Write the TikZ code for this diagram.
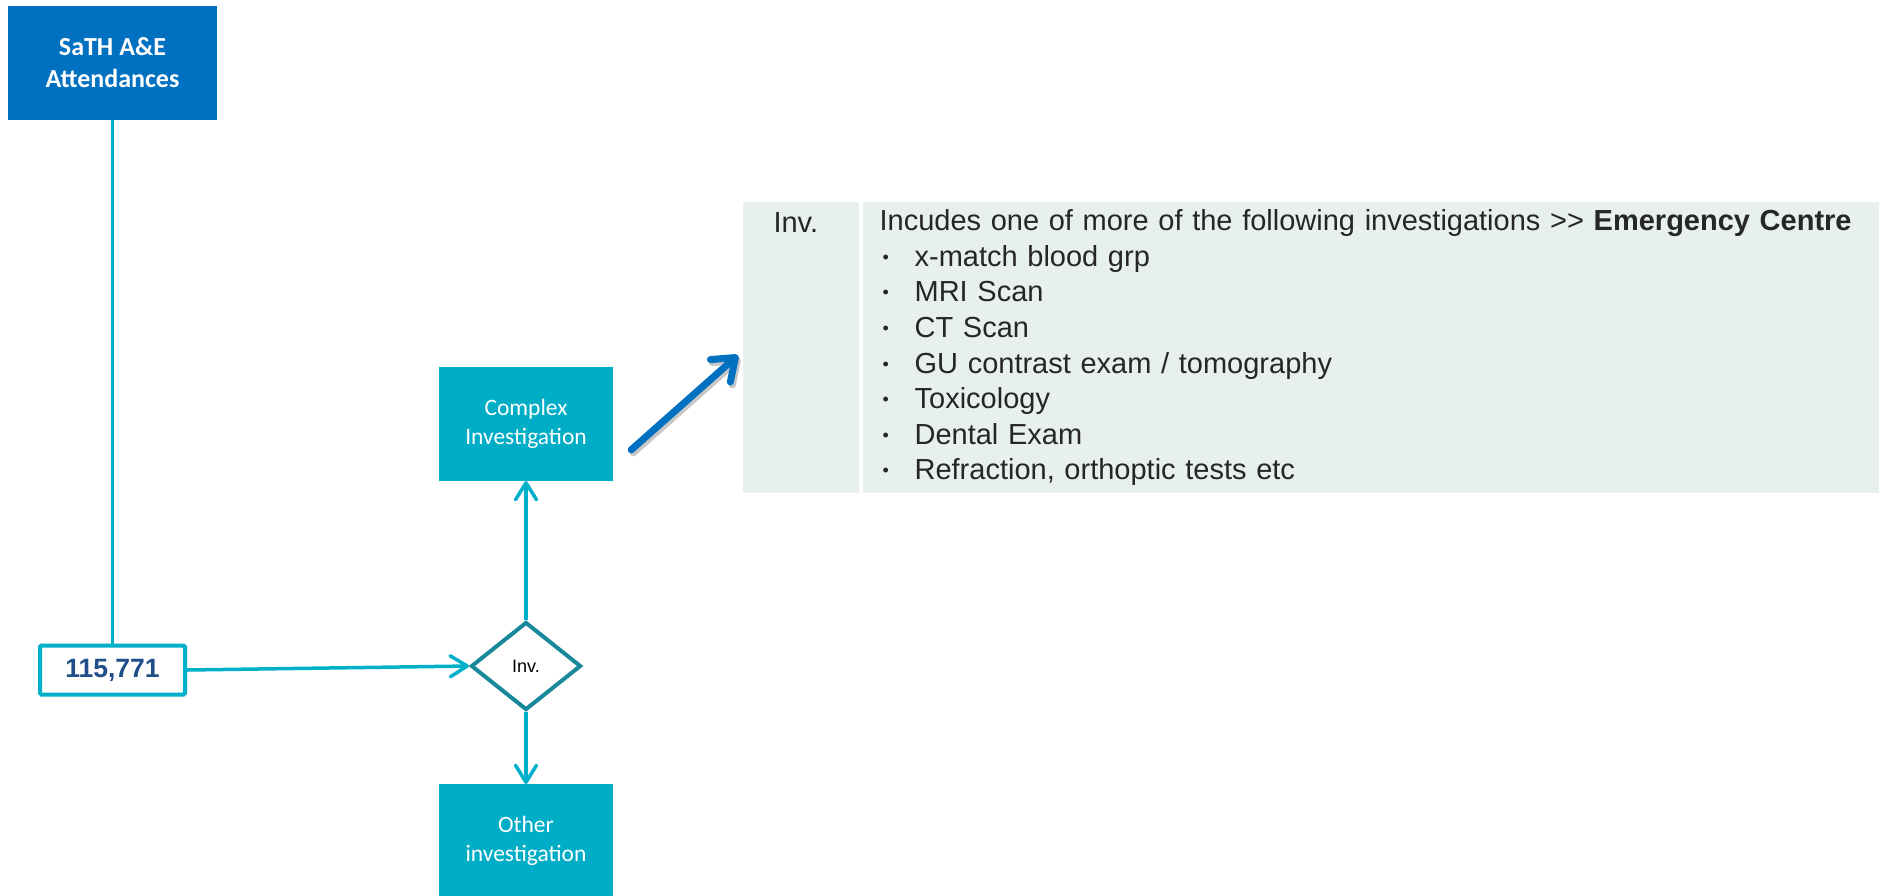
\documentclass[tikz,border=0pt]{standalone}
\usepackage{fontspec}
\setmainfont{Liberation Sans}
\newfontfamily\calib{Carlito}
\usepackage{tikz}
\usetikzlibrary{positioning,shapes.geometric,arrows.meta}
\definecolor{sathblue}{HTML}{0070C0}
\definecolor{tealbox}{HTML}{00ADC6}
\definecolor{tealln}{HTML}{00B0CA}
\definecolor{decdark}{HTML}{18899A}
\definecolor{numtext}{HTML}{1F4E88}
\definecolor{tabbg}{HTML}{E7F0EE}
\tikzset{
  head/.style={fill=sathblue, text=white, font=\calib\bfseries\fontsize{26}{32}\selectfont, minimum width=209pt, minimum height=114pt, align=center, inner sep=0pt},
  outcome/.style={fill=tealbox, text=white, font=\calib\fontsize{23.5}{29}\selectfont, minimum width=174pt, minimum height=114pt, align=center, inner sep=0pt},
  count/.style={draw=tealln, line width=4pt, fill=white, rounded corners=1.5pt, minimum width=145pt, minimum height=49pt, text=numtext, font=\bfseries\fontsize{26.5}{30}\selectfont},
  decision/.style={diamond, draw=decdark, line width=4pt, fill=white, minimum width=110pt, minimum height=88pt, inner sep=0pt, font=\fontsize{18}{20}\selectfont},
  flow/.style={draw=tealln, line width=3.5pt},
  flowto/.style={flow, -{Straight Barb[length=17pt,width=21pt,line width=3.5pt,round]}},
  cell/.style={fill=tabbg, inner sep=0pt, minimum height=291pt},
  tabtxt/.style={text=black!85, font=\fontsize{29}{35.6}\selectfont},
  pointer/.style={draw=sathblue, line width=7pt, line cap=round, -{Straight Barb[length=20pt,width=30pt,line width=7pt,round]}},
}
\newcommand\itm[1]{\makebox[35pt][l]{\hspace{3pt}\raisebox{3pt}{\fontsize{18}{18}\selectfont\textbullet}}#1}

\begin{document}
\begin{tikzpicture}[x=1pt,y=1pt]
  \useasboundingbox (0,0) rectangle (1879,-895);
  \node[head] (sath) at (112.5,-63) {SaTH A\&E\\Attendances};
  \node[count] (num) at (112.5,-670) {115,771};
  \node[decision] (dec) at (526,-666) {Inv.};
  \node[outcome, above=139pt of dec] (cmplx) {Complex\\Investigation};
  \node[outcome, below=72pt of dec] (other) {Other\\investigation};
  \draw[flow] (sath.south) -- (num.north);
  \draw[flowto] (num.east) -- (dec.west);
  \draw[flowto] (dec.north) -- (cmplx.south);
  \draw[flowto] (dec.south) -- (other.north);
  % table of investigations
  \node[cell, anchor=north west, minimum width=116pt] (invcell) at (743,-202) {};
  \node[tabtxt, anchor=west] (invlab) at ([xshift=27pt,yshift=-21pt]invcell.north west) {Inv.};
  \node[cell, tabtxt, right=3pt of invcell, minimum width=1017pt, text width=983pt, inner xsep=17pt, align=left] (desc) {%
    Incudes one of more of the following investigations >{}> \textbf{Emergency Centre}\\
    \itm{x-match blood grp}\\
    \itm{MRI Scan}\\
    \itm{CT Scan}\\
    \itm{GU contrast exam / tomography}\\
    \itm{Toxicology}\\
    \itm{Dental Exam}\\
    \itm{Refraction, orthoptic tests etc}};
  \coordinate (ptail) at ([xshift=18pt,yshift=-26pt]cmplx.east);
  \coordinate (ptip) at ([xshift=-5pt,yshift=-7.5pt]invcell.west);
  \draw[pointer, draw=black, opacity=0.22, transform canvas={shift={(2pt,-3pt)}}] (ptail) -- (ptip);
  \draw[pointer] (ptail) -- (ptip);
\end{tikzpicture}
\end{document}
